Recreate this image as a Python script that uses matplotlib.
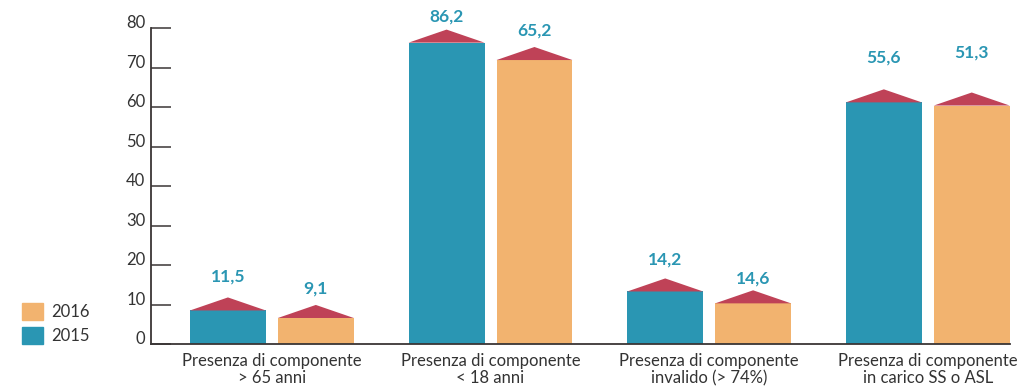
import matplotlib
matplotlib.use('Agg')
import matplotlib.pyplot as plt
from matplotlib.patches import Patch, Polygon

categories = ['Presenza di componente\n> 65 anni',
              'Presenza di componente\n< 18 anni',
              'Presenza di componente\ninvalido (> 74%)',
              'Presenza di componente\nin carico SS o ASL']
labels_2015 = [11.5, 86.2, 14.2, 55.6]
labels_2016 = [9.1, 65.2, 14.6, 51.3]
# drawn heights of the bar bodies (as they appear in the picture)
body_2015 = [8.6, 76.3, 13.4, 61.2]
body_2016 = [6.7, 71.9, 10.4, 60.4]
roof = 3.3
# where the value labels sit
text_2015 = [17.1, 82.9, 21.5, 72.6]
text_2016 = [14.1, 79.3, 16.7, 73.7]
yticks = [0, 10, 20, 30, 40, 50, 60, 70, 80]

blue = '#2a96b3'
orange = '#f2b36f'
red = '#bf4257'
dark = '#3a3535'

plt.rcParams['font.family'] = ['Lato', 'DejaVu Sans']

fig = plt.figure(figsize=(10.2, 3.89), dpi=100)
ax = fig.add_axes([0.148, 0.1144, 0.842, 0.8136])

width = 0.347
off = 0.201

def draw_series(xs, bodies, vals, texts, color):
    ax.bar(xs, bodies, width, color=color, zorder=2)
    for x, h, v, t in zip(xs, bodies, vals, texts):
        tri = Polygon([(x - width / 2, h), (x, h + roof), (x + width / 2, h)],
                      closed=True, color=red, zorder=2, linewidth=0)
        ax.add_patch(tri)
        ax.text(x, t, ('%.1f' % v).replace('.', ','), ha='center', va='center',
                color=blue, fontsize=12.5, fontweight='bold', clip_on=False)

pos = list(range(len(categories)))
draw_series([p - off for p in pos], body_2015, labels_2015, text_2015, blue)
draw_series([p + off for p in pos], body_2016, labels_2016, text_2016, orange)

ax.set_xlim(-0.553, 3.375)
ax.set_ylim(0, 80)
ax.spines['top'].set_visible(False)
ax.spines['right'].set_visible(False)
for s in ['left', 'bottom']:
    ax.spines[s].set_color(dark)
    ax.spines[s].set_linewidth(1.3)

ax.set_yticks(yticks)
ax.set_yticklabels([str(t) for t in yticks])
ax.tick_params(axis='y', direction='in', length=14.4, width=1.1, color=dark,
               pad=4, labelsize=12, labelcolor='#333333')
for lab in ax.get_yticklabels():
    lab.set_verticalalignment('baseline')

ax.set_xticks(pos)
ax.set_xticklabels(categories, fontsize=12, color='#333333', linespacing=1.1)
ax.tick_params(axis='x', length=0, pad=6)

handles = [Patch(color=orange), Patch(color=blue)]
fig.legend(handles, ['2016', '2015'], loc='lower left',
           bbox_to_anchor=(0.0216, 0.1157), frameon=False, borderpad=0,
           borderaxespad=0, handlelength=1.26, handleheight=1.2,
           handletextpad=0.48, labelspacing=0.39,
           prop={'size': 12}, labelcolor='#333333')

fig.savefig('out.png', dpi=100)
